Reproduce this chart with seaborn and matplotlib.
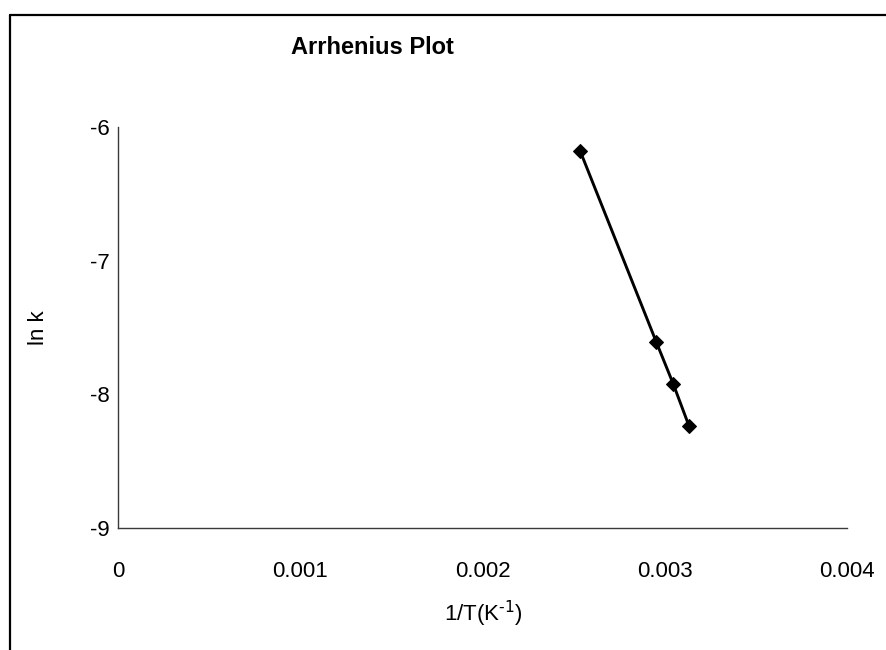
import matplotlib
matplotlib.use("Agg")
import matplotlib.pyplot as plt
from matplotlib.lines import Line2D
import pandas as pd
import seaborn as sns

# Reciprocal temperature (1/K) and natural log of the rate constant
inv_T = [0.002536, 0.002954, 0.003046, 0.003134]
ln_k = [-6.18, -7.61, -7.92, -8.24]

x_ticks = [0, 0.001, 0.002, 0.003, 0.004]
x_tick_labels = ["0", "0.001", "0.002", "0.003", "0.004"]
y_ticks = [-9, -8, -7, -6]
y_tick_labels = ["-9", "-8", "-7", "-6"]

sns.set_theme(style="white")
plt.rcParams["font.family"] = ["Liberation Sans", "DejaVu Sans"]
plt.rcParams["mathtext.default"] = "regular"

df = pd.DataFrame({"inv_T": inv_T, "ln_k": ln_k})

W, H = 886, 650
fig = plt.figure(figsize=(W / 100, H / 100), dpi=100)
fig.patch.set_facecolor("white")

left, right, top, bottom = 118, 847, 127, 528
ax = fig.add_axes([left / W, 1 - bottom / H, (right - left) / W, (bottom - top) / H])

sns.lineplot(data=df, x="inv_T", y="ln_k", ax=ax, sort=False,
             color="black", linewidth=2.1, marker="D", markersize=7.5,
             markeredgecolor="black", markerfacecolor="black")

ax.set_xlim(0, 0.004)
ax.set_ylim(-9, -6)
ax.set_xticks(x_ticks)
ax.set_xticklabels(x_tick_labels)
ax.set_yticks(y_ticks)
ax.set_yticklabels(y_tick_labels)
ax.set_xlabel("")
ax.set_ylabel("")

for side in ["top", "right"]:
    ax.spines[side].set_visible(False)
for side in ["left", "bottom"]:
    ax.spines[side].set_color("#3a3a3a")
    ax.spines[side].set_linewidth(1.0)

ax.tick_params(axis="both", direction="out", length=5, width=1.0,
               color="#3a3a3a", labelsize=16, labelcolor="black")
ax.tick_params(axis="x", pad=19)
ax.tick_params(axis="y", pad=1)

fig.text(372 / W, 1 - 47 / H, "Arrhenius Plot", ha="center", va="center",
         fontsize=17, fontweight="bold", color="black")
fig.text(483 / W, 1 - 614 / H, r"1/T(K$^{\text{-1}}$)", ha="center", va="center",
         fontsize=16, color="black")
fig.text(38 / W, 1 - 328 / H, "ln k", ha="center", va="center",
         rotation=90, fontsize=16, color="black")

# Chart-area frame (left and top edges)
fig.add_artist(Line2D([10 / W, 10 / W], [0, 1 - 15 / H], transform=fig.transFigure,
                      color="black", linewidth=1.6))
fig.add_artist(Line2D([10 / W, 1], [1 - 15 / H, 1 - 15 / H], transform=fig.transFigure,
                      color="black", linewidth=1.6))

fig.savefig("out.png", dpi=100, facecolor="white")
